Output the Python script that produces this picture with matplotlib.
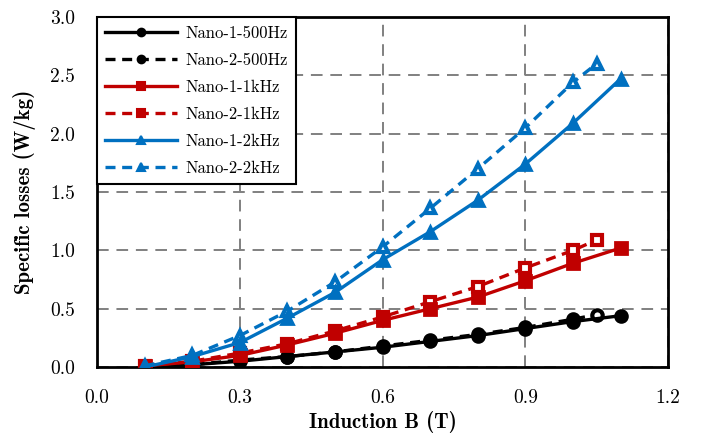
import matplotlib
matplotlib.use("Agg")
import matplotlib.pyplot as plt
from matplotlib.lines import Line2D

plt.rcParams['font.family'] = ['cmr10', 'DejaVu Serif']
plt.rcParams['axes.formatter.use_mathtext'] = True
plt.rcParams['mathtext.fontset'] = 'cm'

x1 = [0.1, 0.2, 0.3, 0.4, 0.5, 0.6, 0.7, 0.8, 0.9, 1.0, 1.1]
x2 = [0.1, 0.2, 0.3, 0.4, 0.5, 0.6, 0.7, 0.8, 0.9, 1.0, 1.05]

n1_500 = [0.00, 0.02, 0.05, 0.09, 0.13, 0.17, 0.22, 0.27, 0.33, 0.39, 0.44]
n2_500 = [0.00, 0.02, 0.06, 0.09, 0.13, 0.18, 0.23, 0.28, 0.34, 0.41, 0.45]
n1_1k = [0.01, 0.045, 0.10, 0.19, 0.29, 0.40, 0.50, 0.60, 0.74, 0.89, 1.02]
n2_1k = [0.01, 0.05, 0.12, 0.20, 0.31, 0.43, 0.56, 0.69, 0.85, 1.00, 1.09]
n1_2k = [0.00, 0.09, 0.21, 0.42, 0.64, 0.92, 1.16, 1.43, 1.74, 2.09, 2.47]
n2_2k = [0.01, 0.10, 0.27, 0.48, 0.73, 1.03, 1.36, 1.70, 2.05, 2.44, 2.60]

labels = ['Nano-1-500Hz', 'Nano-2-500Hz', 'Nano-1-1kHz', 'Nano-2-1kHz',
          'Nano-1-2kHz', 'Nano-2-2kHz']

BLACK = '#000000'
RED = '#c00000'
BLUE = '#0070c0'

fig = plt.figure(figsize=(7.04, 4.37), dpi=100)
ax = fig.add_axes([0.138, 0.160, 0.811, 0.801])

lw = 2.4
ms = 8.5
series = [
    (x1, n1_500, BLACK, '-', 'o', True),
    (x2, n2_500, BLACK, '--', 'o', False),
    (x1, n1_1k, RED, '-', 's', True),
    (x2, n2_1k, RED, '--', 's', False),
    (x1, n1_2k, BLUE, '-', '^', True),
    (x2, n2_2k, BLUE, '--', '^', False),
]
draw_order = [1, 0, 3, 2, 5, 4]
handles = []
for i, ((xs, ys, c, ls, m, filled), lab) in enumerate(zip(series, labels)):
    dashes = (3, 2) if ls == '--' else (None, None)
    ax.plot(xs, ys, color=c, linestyle=ls, linewidth=lw, marker=m,
            markersize=ms if filled else ms - 1,
            markerfacecolor=c if filled else 'white',
            markeredgecolor=c, markeredgewidth=2.0 if filled else 3.0,
            zorder=3 + draw_order.index(i) * 0.1, dashes=dashes)
    handles.append(Line2D([], [], color=c, linestyle=ls, linewidth=lw, marker=m,
                          markersize=5.5, markerfacecolor=c,
                          markeredgecolor=c, markeredgewidth=1.5,
                          dashes=dashes))

ax.set_xlim(0.0, 1.2)
ax.set_ylim(0.0, 3.0)
ax.set_xticks([0.0, 0.3, 0.6, 0.9, 1.2])
ax.set_yticks([0.0, 0.5, 1.0, 1.5, 2.0, 2.5, 3.0])
ax.set_xticklabels(['0.0', '0.3', '0.6', '0.9', '1.2'])
ax.set_yticklabels(['0.0', '0.5', '1.0', '1.5', '2.0', '2.5', '3.0'])
ax.tick_params(axis='both', length=0, labelsize=14)
ax.tick_params(axis='x', pad=16)
ax.tick_params(axis='y', pad=16)
ax.grid(True, color='#808080', linestyle=(0, (6, 4)), linewidth=1.4, zorder=0)
for s in ax.spines.values():
    s.set_linewidth(2.0)
    s.set_color('black')

ax.set_xlabel('Induction B (T)', fontfamily='cmb10', fontsize=15, labelpad=3)
ax.set_ylabel('Specific losses (W/kg)', fontfamily='cmb10', fontsize=15, labelpad=10)

leg = ax.legend(handles=handles, labels=labels, loc='upper left',
                borderaxespad=0.0, fontsize=12, handlelength=4.3,
                labelspacing=0.7, handletextpad=0.5, borderpad=0.5,
                frameon=True, fancybox=False, edgecolor='black')
leg.get_frame().set_linewidth(1.5)
leg.get_frame().set_alpha(1)

fig.savefig('out.png', dpi=100)
